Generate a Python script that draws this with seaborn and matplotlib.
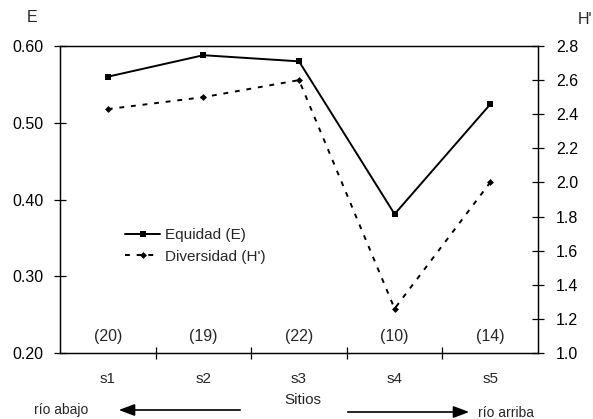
import matplotlib
matplotlib.use("Agg")
import matplotlib.pyplot as plt
import seaborn as sns
import pandas as pd
import numpy as np

sites = ["s1", "s2", "s3", "s4", "s5"]
equidad = [0.560, 0.588, 0.580, 0.381, 0.524]
diversidad = [2.43, 2.50, 2.60, 1.26, 2.00]
n_species = ["(20)", "(19)", "(22)", "(10)", "(14)"]

sns.set_theme(style="white")
plt.rcParams['font.family'] = ['Liberation Sans', 'DejaVu Sans']

df = pd.DataFrame({"pos": np.arange(len(sites)), "site": sites,
                   "E": equidad, "H": diversidad})

fig = plt.figure(figsize=(5.93, 4.19), dpi=100)
ax = fig.add_axes([60/593, 1-353/419, 478/593, 307/419])
ax2 = ax.twinx()

sns.lineplot(data=df, x="pos", y="E", ax=ax, color="black", lw=1.4,
             marker="s", markersize=4.5, markeredgewidth=0, label="Equidad (E)", legend=False)
sns.lineplot(data=df, x="pos", y="H", ax=ax2, color="black", lw=1.4,
             linestyle=(0, (2.5, 3.5)), marker="D", markersize=3.5, markeredgewidth=0,
             label="Diversidad (H')", legend=False)

ax.set_xlim(-0.5, 4.5)
ax.set_ylim(0.20, 0.60)
ax2.set_ylim(1.0, 2.8)
ax.set_yticks([0.2, 0.3, 0.4, 0.5, 0.6])
ax.set_yticklabels([f"{v:.2f}" for v in [0.2, 0.3, 0.4, 0.5, 0.6]])
ax2.set_yticks(np.round(np.arange(1.0, 2.81, 0.2), 1))
ax2.set_yticklabels([f"{v:.1f}" for v in np.arange(1.0, 2.81, 0.2)])

ax.set_xticks([0.5, 1.5, 2.5, 3.5])
ax.set_xticklabels([])
for i, s in enumerate(sites):
    ax.text(i, -0.085, s, transform=ax.get_xaxis_transform(), ha="center", va="center", fontsize=11)
    ax.text(i, 0.055, n_species[i], transform=ax.get_xaxis_transform(), ha="center", va="center", fontsize=11.5)

ax.set_xlabel("")
ax.set_ylabel("")
ax2.set_ylabel("")
for a in (ax, ax2):
    for sp in a.spines.values():
        sp.set_color("black")
        sp.set_linewidth(0.9)
ax.tick_params(axis="both", direction="inout", length=8, width=0.9, colors="black", labelsize=11.5, left=True, bottom=True)
ax.tick_params(axis="y", pad=8)
ax2.tick_params(axis="y", direction="inout", length=8, width=0.9, colors="black", labelsize=11.5, right=True, pad=9)

fig.text(32/593, 1-18/419, "E", ha="center", va="center", fontsize=11.5)
fig.text(585/593, 1-20/419, "H'", ha="center", va="center", fontsize=11.5)
fig.text(303/593, 1-400/419, "Sitios", ha="center", va="center", fontsize=11)

fig.text(34/593, 1-410/419, "río abajo", ha="left", va="center", fontsize=10)
fig.text(478/593, 1-413/419, "río arriba", ha="left", va="center", fontsize=10)
ax.annotate("", xy=(116/593, 1-410/419), xytext=(243/593, 1-410/419), xycoords="figure fraction",
            arrowprops=dict(arrowstyle="-|>,head_length=0.8,head_width=0.3", color="black", lw=1.2))
ax.annotate("", xy=(472/593, 1-412/419), xytext=(345/593, 1-412/419), xycoords="figure fraction",
            arrowprops=dict(arrowstyle="-|>,head_length=0.8,head_width=0.3", color="black", lw=1.2))

h1, l1 = ax.get_legend_handles_labels()
h2, l2 = ax2.get_legend_handles_labels()
ax.legend(h1 + h2, ["Equidad (E)", "Diversidad (H')"], loc="upper left",
          bbox_to_anchor=((125-60)/478, (353-228)/307), frameon=False, fontsize=11, handlelength=2.3,
          handletextpad=0.3, labelspacing=0.5, borderaxespad=0, borderpad=0)

fig.savefig("out.png", dpi=100)
